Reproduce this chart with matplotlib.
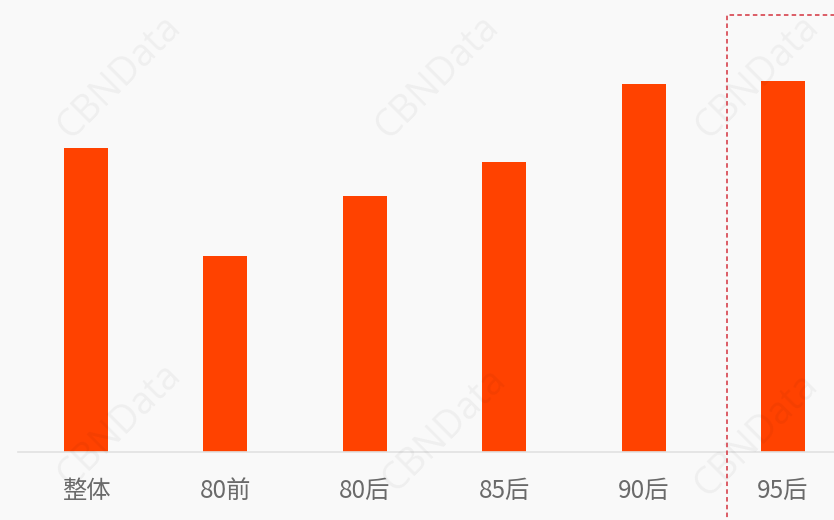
import matplotlib
matplotlib.use("Agg")
import matplotlib.pyplot as plt
from matplotlib.patches import Rectangle

categories = ["整体", "80前", "80后", "85后", "90后", "95后"]
values = [30.4, 19.6, 25.6, 29.0, 36.8, 37.1]

plt.rcParams['font.family'] = ['Noto Sans CJK SC', 'DejaVu Sans']

W, H = 834, 520
fig = plt.figure(figsize=(W / 100, H / 100), dpi=100)
bg = '#f9f9f9'
fig.patch.set_facecolor(bg)

ax = fig.add_axes([18 / W, (H - 452) / H, 1 - 18 / W, 452 / H])
ax.set_facecolor(bg)
x = list(range(len(categories)))
ax.bar(x, values, width=0.315, color='#ff4200', zorder=2)
ax.set_xlim(-0.488, 5.366)
ax.set_ylim(0, 45.2)
ax.set_xticks(x)
ax.set_xticklabels(categories, fontsize=17.5, color='#6a6a6a', fontweight='light')
ax.tick_params(axis='x', length=0, pad=19)
ax.set_yticks([])
for s in ['top', 'right', 'left']:
    ax.spines[s].set_visible(False)
ax.spines['bottom'].set_color('#e2e2e2')
ax.spines['bottom'].set_linewidth(1.2)

# watermarks
marks = [(120, 77), (438, 77), (758, 77), (120, 425), (445, 430), (757, 435)]
for (px, py) in marks:
    fig.text(px / W, 1 - py / H, "CBNData", fontsize=27, color='#000000', alpha=0.045,
             rotation=45, ha='center', va='center', family='Open Sans', zorder=5)

# dashed highlight rectangle
rect = Rectangle((727 / W, -0.05), 0.2, 1 - 15 / H + 0.05, transform=fig.transFigure,
                 fill=False, edgecolor='#d9505a', linestyle=(0, (2.5, 1.8)), linewidth=1.3,
                 zorder=6)
fig.add_artist(rect)

fig.savefig("out.png", dpi=100, facecolor=bg)
